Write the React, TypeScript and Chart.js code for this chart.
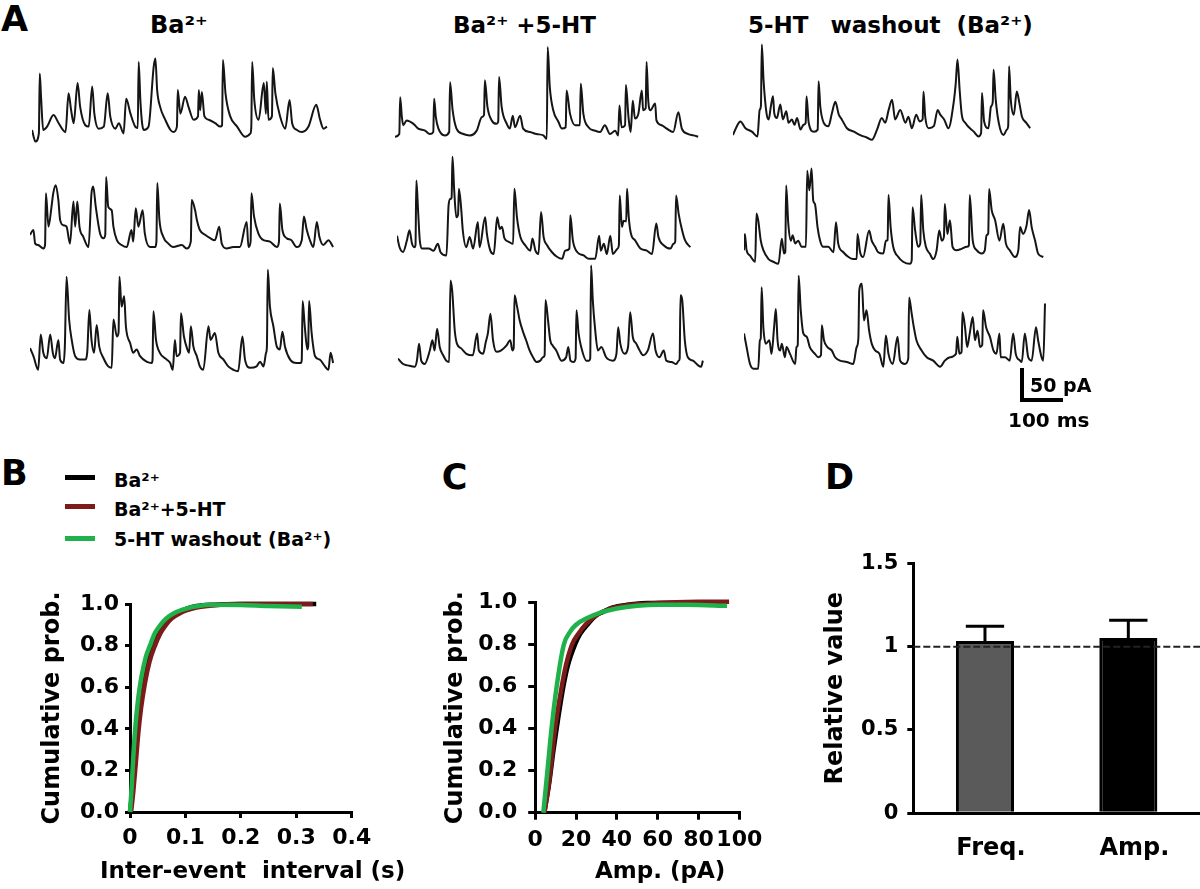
import React, { useEffect, useRef } from 'react';
import { Chart, registerables } from 'chart.js';

Chart.register(...registerables);
Chart.defaults.font.family = 'DejaVu Sans';
Chart.defaults.color = '#000';

// ---------------- DATA ----------------
// Panel A: sample current traces, [time (ms), current (pA)]
const traceBa1: number[][] = [[0,5],[8,-12],[16,0],[18,88],[21,54],[26,5],[35,10],[50,27],[62,15],[78,2],[85,59],[91,34],[97,15],[106,74],[112,39],[124,12],[132,10],[140,69],[145,29],[155,7],[167,10],[176,59],[182,25],[194,7],[202,15],[213,0],[219,51],[229,29],[240,10],[246,8],[248,105],[252,49],[256,15],[260,5],[271,10],[283,98],[287,110],[291,64],[298,39],[310,20],[322,5],[329,2],[337,10],[339,64],[345,29],[356,54],[364,39],[376,20],[386,25],[388,64],[391,34],[395,61],[401,25],[411,20],[426,15],[438,10],[442,12],[444,108],[450,59],[461,25],[477,10],[496,-5],[508,0],[510,10],[512,105],[517,49],[527,20],[539,74],[544,29],[546,76],[550,20],[558,25],[560,96],[566,59],[577,25],[589,7],[599,49],[605,15],[616,5],[628,2],[643,10],[661,42],[670,20],[678,7],[686,10]];
const traceBa2: number[][] = [[0,20],[8,27],[12,7],[19,5],[31,0],[35,5],[37,81],[43,32],[50,61],[54,81],[60,93],[66,71],[70,42],[78,34],[85,32],[93,7],[101,69],[105,32],[110,69],[115,32],[124,17],[136,2],[143,81],[147,91],[153,61],[163,22],[171,15],[175,20],[177,105],[182,61],[190,56],[194,32],[202,12],[213,5],[225,2],[236,27],[240,10],[246,59],[252,32],[262,56],[267,22],[279,2],[291,2],[294,10],[296,96],[301,42],[310,17],[322,7],[333,2],[353,5],[364,0],[374,10],[376,71],[384,56],[388,42],[395,27],[407,20],[419,15],[430,12],[440,32],[446,7],[457,0],[473,2],[488,2],[504,39],[508,2],[513,10],[515,81],[521,47],[531,22],[543,12],[558,10],[574,2],[579,10],[581,66],[587,27],[597,15],[608,12],[620,2],[632,12],[637,47],[643,29],[651,12],[659,2],[667,39],[673,17],[682,5],[694,12],[705,2]];
const traceBa3: number[][] = [[0,27],[8,15],[19,-5],[25,47],[31,20],[39,12],[47,47],[53,20],[58,12],[66,39],[70,10],[78,5],[81,29],[85,132],[91,69],[97,39],[105,15],[116,10],[128,10],[133,20],[138,83],[143,39],[149,20],[155,61],[161,29],[171,12],[182,0],[190,-2],[194,69],[202,44],[206,50],[208,132],[213,88],[219,103],[223,59],[233,34],[240,20],[248,25],[256,15],[271,7],[283,5],[285,10],[287,81],[293,39],[302,20],[318,10],[326,5],[332,-5],[337,39],[341,15],[349,20],[351,78],[358,44],[366,25],[370,20],[374,59],[380,29],[388,15],[395,0],[403,-5],[415,59],[420,39],[430,49],[438,20],[450,10],[461,0],[473,-5],[484,-7],[494,44],[500,10],[512,-2],[527,0],[535,7],[543,0],[549,20],[551,30],[553,142],[558,88],[566,59],[574,29],[581,25],[587,51],[593,29],[605,10],[620,5],[630,5],[632,10],[634,96],[639,59],[645,25],[647,30],[649,96],[655,49],[663,15],[674,10],[686,0],[694,-5],[699,20],[705,5]];

const traceHT1: number[][] = [[0,-2],[10,2],[12,56],[16,27],[19,15],[27,22],[43,17],[54,10],[70,7],[81,2],[89,5],[91,54],[95,27],[101,10],[116,0],[126,5],[128,78],[134,37],[143,10],[159,2],[174,0],[190,7],[202,27],[207,30],[209,81],[215,42],[225,22],[236,17],[240,20],[242,86],[248,42],[260,17],[267,10],[274,29],[279,12],[291,29],[298,10],[314,5],[329,2],[345,0],[353,-5],[355,130],[360,71],[368,37],[380,20],[388,10],[397,12],[399,66],[407,32],[419,15],[430,15],[432,76],[438,32],[450,12],[465,7],[477,5],[488,15],[500,2],[512,7],[519,0],[522,44],[527,12],[535,15],[537,74],[543,27],[548,5],[553,51],[558,25],[566,32],[574,66],[577,37],[583,40],[585,108],[589,51],[594,37],[605,47],[608,22],[620,15],[632,10],[647,5],[659,34],[667,10],[682,2],[694,0],[705,-2]];
const traceHT2: number[][] = [[0,29],[6,12],[14,5],[23,22],[29,37],[35,17],[40,12],[43,15],[45,110],[49,66],[53,22],[58,10],[74,10],[85,7],[95,17],[101,5],[115,0],[120,74],[124,83],[127,85],[129,145],[133,96],[138,56],[142,60],[144,98],[149,71],[153,37],[161,12],[169,27],[177,10],[188,49],[192,12],[205,56],[209,32],[217,7],[225,2],[233,56],[239,39],[244,42],[250,25],[260,20],[270,17],[273,98],[279,56],[287,27],[298,15],[310,7],[315,25],[322,7],[329,2],[335,64],[341,27],[349,15],[360,5],[372,-2],[384,-5],[391,7],[401,10],[403,59],[409,22],[419,5],[434,0],[446,-5],[461,-5],[470,29],[474,7],[481,17],[488,2],[496,29],[502,2],[513,10],[516,15],[518,88],[523,42],[527,51],[533,50],[535,98],[539,56],[544,32],[554,22],[566,10],[581,7],[593,2],[603,47],[608,27],[620,15],[636,10],[643,17],[647,20],[649,88],[655,61],[663,37],[670,22],[682,12]];
const traceHT3: number[][] = [[0,10],[12,2],[23,0],[39,-2],[44,7],[49,32],[54,7],[62,2],[74,22],[80,37],[85,22],[91,54],[97,27],[105,15],[112,7],[119,5],[122,125],[126,110],[132,51],[137,32],[147,25],[159,17],[174,15],[184,47],[188,22],[198,17],[204,34],[209,47],[215,76],[221,37],[229,20],[240,22],[252,29],[261,37],[266,22],[269,25],[271,103],[277,86],[283,66],[291,49],[298,37],[306,22],[314,12],[322,5],[331,7],[337,12],[341,15],[343,96],[349,66],[354,37],[360,29],[368,22],[380,7],[391,12],[396,27],[401,7],[408,5],[413,10],[415,81],[420,47],[426,27],[438,7],[444,7],[447,10],[449,147],[453,96],[458,56],[465,22],[473,27],[484,12],[500,7],[508,17],[512,56],[517,32],[527,17],[535,27],[540,78],[546,42],[554,32],[562,22],[570,15],[581,22],[593,47],[599,22],[608,12],[618,22],[624,7],[636,5],[647,2],[653,7],[655,10],[657,103],[661,96],[667,37],[674,12],[686,7],[698,0],[705,-2],[709,7]];

const traceWash1: number[][] = [[0,2],[9,15],[17,22],[29,12],[44,7],[57,0],[62,39],[65,45],[67,135],[71,83],[78,34],[83,25],[88,44],[93,59],[96,34],[102,27],[110,47],[116,25],[124,37],[129,20],[137,25],[143,17],[149,27],[157,10],[164,17],[169,20],[171,59],[176,20],[188,7],[197,10],[199,81],[203,44],[211,20],[222,15],[230,34],[238,51],[246,32],[253,25],[265,12],[281,7],[296,2],[312,-2],[323,-5],[335,10],[346,27],[354,20],[362,39],[370,54],[377,25],[389,39],[401,20],[408,29],[416,12],[426,32],[434,22],[441,25],[443,66],[447,29],[455,12],[467,15],[476,39],[482,32],[491,25],[501,12],[513,49],[518,78],[522,113],[527,69],[532,32],[540,20],[560,7],[571,0],[577,5],[579,64],[584,22],[594,12],[600,44],[604,50],[606,98],[611,54],[618,20],[629,2],[637,10],[640,15],[642,103],[646,54],[653,32],[660,66],[666,49],[672,29],[682,20],[691,12]];
const traceWash2: number[][] = [[0,15],[2,39],[6,15],[14,7],[26,-2],[29,69],[33,59],[39,29],[45,15],[57,2],[68,-2],[80,-5],[88,32],[93,10],[96,12],[98,110],[103,54],[109,29],[113,37],[119,25],[126,29],[134,20],[144,20],[147,132],[152,103],[157,135],[161,88],[165,83],[171,49],[177,29],[184,20],[196,20],[208,12],[214,56],[219,25],[231,12],[243,5],[254,2],[262,2],[264,39],[270,12],[277,5],[291,44],[297,29],[305,20],[312,12],[324,10],[330,29],[334,30],[336,96],[341,49],[347,20],[359,5],[370,-2],[386,-5],[390,0],[392,78],[398,44],[405,20],[410,25],[412,96],[417,44],[423,20],[432,10],[440,2],[448,15],[454,44],[460,29],[465,35],[467,83],[473,39],[479,59],[485,20],[494,15],[506,17],[518,20],[523,22],[525,96],[532,29],[541,15],[553,10],[560,15],[564,37],[568,40],[570,105],[576,74],[584,59],[594,29],[603,54],[609,25],[618,15],[630,5],[638,15],[642,49],[649,39],[657,51],[663,74],[669,49],[677,29],[684,10],[696,5]];
const traceWash3: number[][] = [[0,47],[6,27],[14,2],[22,-5],[33,-5],[37,37],[39,40],[41,115],[45,56],[51,32],[59,37],[64,17],[70,56],[74,83],[78,37],[84,22],[88,32],[95,12],[99,27],[107,17],[119,2],[122,27],[125,30],[127,132],[132,81],[138,47],[146,42],[153,27],[165,17],[173,12],[179,15],[181,59],[186,37],[194,27],[204,22],[212,12],[223,7],[239,5],[254,2],[262,27],[266,40],[268,110],[274,120],[279,66],[285,81],[291,51],[297,32],[305,22],[315,17],[324,-2],[330,44],[336,17],[346,2],[357,42],[363,7],[374,2],[382,10],[384,100],[390,76],[395,56],[401,37],[413,22],[425,12],[440,7],[456,-2],[467,7],[479,12],[493,17],[496,42],[501,17],[506,20],[508,78],[514,56],[519,27],[525,47],[532,71],[537,37],[543,51],[549,27],[554,30],[556,81],[563,56],[572,42],[580,22],[587,17],[594,47],[597,12],[607,12],[618,7],[626,47],[632,17],[642,7],[646,5],[653,47],[661,12],[669,7],[679,56],[684,37],[692,12],[696,7],[700,91]];

// Scale bar values
const scaleBarMs = 100;
const scaleBarPa = 50;

// Legend / series
const seriesNames = ['Ba²⁺', 'Ba²⁺+5-HT', '5-HT washout (Ba²⁺)'];
const seriesColors = ['#000000', '#7d1b1b', '#1fb24a'];

// Panel B: cumulative probability vs inter-event interval (s)
const ieiBa: number[][] = [[0,0],[0.004,0.1],[0.008,0.25],[0.012,0.4],[0.018,0.55],[0.025,0.66],[0.032,0.74],[0.04,0.8],[0.05,0.86],[0.06,0.9],[0.07,0.93],[0.08,0.95],[0.1,0.975],[0.12,0.99],[0.15,0.997],[0.2,1.0],[0.336,1.0]];
const ieiBaHT: number[][] = [[0.002,0],[0.006,0.1],[0.01,0.22],[0.015,0.38],[0.02,0.5],[0.027,0.62],[0.035,0.72],[0.045,0.8],[0.055,0.86],[0.065,0.9],[0.075,0.93],[0.09,0.955],[0.1,0.968],[0.12,0.983],[0.15,0.993],[0.2,1.0],[0.33,1.0]];
const ieiWash: number[][] = [[0,0],[0.003,0.12],[0.006,0.27],[0.01,0.42],[0.015,0.55],[0.02,0.64],[0.028,0.74],[0.036,0.8],[0.045,0.86],[0.055,0.9],[0.065,0.93],[0.08,0.957],[0.1,0.977],[0.12,0.989],[0.15,0.996],[0.2,0.995],[0.25,0.99],[0.31,0.987]];
const ieiTicksX = { min: 0, max: 0.4, step: 0.1 };

// Panel C: cumulative probability vs amplitude (pA)
const ampBa: number[][] = [[4.5,0],[7,0.15],[9,0.3],[10.5,0.4],[13.8,0.6],[16,0.7],[19.5,0.8],[22,0.85],[26,0.9],[30,0.94],[33,0.955],[38,0.978],[45,0.99],[55,0.998],[65,1.0],[94,1.0]];
const ampBaHT: number[][] = [[4.5,0],[7,0.16],[9.7,0.4],[13,0.6],[15,0.7],[18,0.8],[21,0.85],[25,0.9],[30,0.94],[36,0.97],[45,0.988],[60,0.998],[80,1.004],[95,1.005]];
const ampWash: number[][] = [[4,0],[6,0.2],[8,0.4],[10.5,0.6],[14,0.8],[17,0.86],[20,0.895],[25,0.925],[32,0.953],[40,0.972],[50,0.985],[60,0.99],[75,0.99],[94,0.985]];
const ampTicksX = { min: 0, max: 100, step: 20 };

// Panel D: relative values
const relCategories = ['Freq.', 'Amp.'];
const relMeans = [1.034, 1.052];
const relSem = [0.088, 0.106];
const relBaseline = 1;
const relBarColors = ['#5a5a5a', '#000000'];

// ---------------- LAYOUT ----------------
const FONT = 'DejaVu Sans';
const PX_PER_MS = 0.43;
const PX_PER_PA = 0.68;
const TRACE_W = 310;
const TRACE_H = 130;
const T_MAX = TRACE_W / PX_PER_MS;
const V_MIN = -20;
const V_MAX = V_MIN + TRACE_H / PX_PER_PA;
const ZERO_OFFSET = V_MAX * PX_PER_PA;

const traces = [
  { data: traceBa1, left: 31.7, zeroY: 133.3 },
  { data: traceBa2, left: 30, zeroY: 248.3 },
  { data: traceBa3, left: 30, zeroY: 366.7 },
  { data: traceHT1, left: 395, zeroY: 135 },
  { data: traceHT2, left: 396.7, zeroY: 255 },
  { data: traceHT3, left: 398.3, zeroY: 365 },
  { data: traceWash1, left: 732.7, zeroY: 136.7 },
  { data: traceWash2, left: 744, zeroY: 260 },
  { data: traceWash3, left: 744, zeroY: 365 },
];

function Txt(props: { x: number; base: number; size: number; children: any; center?: boolean }) {
  const { x, base, size, children, center } = props;
  return (
    <div
      style={{
        position: 'absolute',
        left: x,
        top: base - 0.846 * size,
        fontSize: size,
        lineHeight: `${size}px`,
        whiteSpace: 'pre',
        transform: center ? 'translateX(-50%)' : undefined,
      }}
    >
      {children}
    </div>
  );
}

function TraceChart(props: { data: number[][]; left: number; zeroY: number }) {
  const ref = useRef<HTMLCanvasElement>(null);
  useEffect(() => {
    const chart = new Chart(ref.current!, {
      type: 'line',
      data: {
        datasets: [
          {
            data: props.data.map(([x, y]) => ({ x, y })),
            borderColor: '#151515',
            borderWidth: 2,
            pointRadius: 0,
            cubicInterpolationMode: 'monotone' as const,
            clip: false as any,
          },
        ],
      },
      options: {
        animation: false,
        responsive: false,
        events: [],
        layout: { padding: 0 },
        plugins: { legend: { display: false }, tooltip: { enabled: false } },
        scales: {
          x: { type: 'linear', display: false, min: 0, max: T_MAX },
          y: { type: 'linear', display: false, min: V_MIN, max: V_MAX },
        },
      },
    });
    return () => chart.destroy();
  }, []);
  return (
    <canvas
      ref={ref}
      width={TRACE_W}
      height={TRACE_H}
      style={{ position: 'absolute', left: props.left, top: props.zeroY - ZERO_OFFSET, width: TRACE_W, height: TRACE_H }}
    />
  );
}

type CdfProps = {
  series: number[][][];
  xTicks: { min: number; max: number; step: number };
  xFmt: (v: number) => string;
  left: number;
  top: number;
  width: number;
  height: number;
  padTop: number;
  padRight: number;
  yWidth: number;
  xHeight: number;
  titlePad: number;
  yTickLen: number;
  yTickPad: number;
  xTickLen: number;
  xTickPad: number;
};

function CdfChart(p: CdfProps) {
  const ref = useRef<HTMLCanvasElement>(null);
  useEffect(() => {
    const order = [2, 1, 0];
    const chart = new Chart(ref.current!, {
      type: 'line',
      data: {
        datasets: p.series.map((s, i) => ({
          label: seriesNames[i],
          data: s.map(([x, y]) => ({ x, y })),
          borderColor: seriesColors[i],
          backgroundColor: seriesColors[i],
          borderWidth: 4.5,
          pointRadius: 0,
          cubicInterpolationMode: 'monotone' as const,
          order: order[i],
          clip: false as any,
        })),
      },
      options: {
        animation: false,
        responsive: false,
        events: [],
        layout: { padding: { top: p.padTop, right: p.padRight, left: 0, bottom: 0 } },
        plugins: { legend: { display: false }, tooltip: { enabled: false } },
        scales: {
          x: {
            type: 'linear',
            min: p.xTicks.min,
            max: p.xTicks.max,
            afterFit: (s: any) => { s.height = p.xHeight; },
            border: { display: true, color: '#000', width: 3 },
            grid: { drawOnChartArea: false, drawTicks: true, tickLength: p.xTickLen, color: '#000', lineWidth: 3 },
            ticks: {
              stepSize: p.xTicks.step,
              autoSkip: false,
              maxRotation: 0,
              minRotation: 0,
              padding: p.xTickPad,
              color: '#000',
              font: { family: FONT, size: 22, weight: 'bold' },
              callback: (v: any) => p.xFmt(Number(v)),
            },
          },
          y: {
            type: 'linear',
            min: 0,
            max: 1,
            afterFit: (s: any) => { s.width = p.yWidth; },
            border: { display: true, color: '#000', width: 3 },
            grid: { drawOnChartArea: false, drawTicks: true, tickLength: p.yTickLen, color: '#000', lineWidth: 3 },
            ticks: {
              stepSize: 0.2,
              padding: p.yTickPad,
              color: '#000',
              font: { family: FONT, size: 22, weight: 'bold' },
              callback: (v: any) => Number(v).toFixed(1),
            },
            title: {
              display: true,
              text: 'Cumulative prob.',
              color: '#000',
              font: { family: FONT, size: 24, weight: 'bold' },
              padding: { top: p.titlePad, bottom: 0 },
            },
          },
        },
      },
    });
    return () => chart.destroy();
  }, []);
  return (
    <canvas
      ref={ref}
      width={p.width}
      height={p.height}
      style={{ position: 'absolute', left: p.left, top: p.top, width: p.width, height: p.height }}
    />
  );
}

const errorBarPlugin = {
  id: 'errorBars',
  afterDatasetsDraw(chart: any) {
    const { ctx, scales } = chart;
    const y = scales.y;
    const meta = chart.getDatasetMeta(0);
    ctx.save();
    ctx.strokeStyle = '#000';
    ctx.lineWidth = 3;
    meta.data.forEach((bar: any, i: number) => {
      const yv = y.getPixelForValue(relMeans[i]);
      const yt = y.getPixelForValue(relMeans[i] + relSem[i]);
      const half = bar.width * 0.33;
      ctx.beginPath();
      ctx.moveTo(bar.x, yv);
      ctx.lineTo(bar.x, yt);
      ctx.moveTo(bar.x - half, yt);
      ctx.lineTo(bar.x + half, yt);
      ctx.stroke();
    });
    ctx.restore();
  },
};

const refLinePlugin = {
  id: 'refLine',
  afterDatasetsDraw(chart: any) {
    const { ctx, chartArea, scales } = chart;
    const py = scales.y.getPixelForValue(relBaseline);
    ctx.save();
    ctx.setLineDash([7, 3]);
    ctx.lineWidth = 2;
    ctx.strokeStyle = '#222';
    ctx.beginPath();
    ctx.moveTo(chartArea.left, py);
    ctx.lineTo(chartArea.right, py);
    ctx.stroke();
    ctx.restore();
  },
};

function BarPanel() {
  const ref = useRef<HTMLCanvasElement>(null);
  useEffect(() => {
    const chart = new Chart(ref.current!, {
      type: 'bar',
      data: {
        labels: relCategories,
        datasets: [
          {
            data: relMeans,
            backgroundColor: relBarColors,
            borderColor: '#000',
            borderWidth: 3,
            barPercentage: 0.405,
            categoryPercentage: 1,
          },
        ],
      },
      options: {
        animation: false,
        responsive: false,
        events: [],
        layout: { padding: { top: 33.3, right: 0, left: 0, bottom: 0 } },
        plugins: { legend: { display: false }, tooltip: { enabled: false } },
        scales: {
          x: {
            type: 'category',
            afterFit: (s: any) => { s.height = 60.7; },
            border: { display: true, color: '#000', width: 3 },
            grid: { display: false },
            ticks: {
              padding: 13,
              labelOffset: 6,
              color: '#000',
              font: { family: FONT, size: 24, weight: 'bold' },
            },
          },
          y: {
            type: 'linear',
            min: 0,
            max: 1.5,
            afterFit: (s: any) => { s.width = 133.3; },
            border: { display: true, color: '#000', width: 3 },
            grid: { drawOnChartArea: false, drawTicks: true, tickLength: 6, color: '#000', lineWidth: 3 },
            ticks: {
              stepSize: 0.5,
              padding: 9,
              color: '#000',
              font: { family: FONT, size: 21, weight: 'bold' },
              callback: (v: any) => String(Number(v)),
            },
            title: {
              display: true,
              text: 'Relative value',
              color: '#000',
              font: { family: FONT, size: 24, weight: 'bold' },
              padding: { top: 41.6, bottom: 0 },
            },
          },
        },
      },
      plugins: [errorBarPlugin, refLinePlugin],
    });
    return () => chart.destroy();
  }, []);
  return (
    <canvas
      ref={ref}
      width={420}
      height={344}
      style={{ position: 'absolute', left: 780, top: 530, width: 420, height: 344 }}
    />
  );
}

export default function App() {
  const barLen = scaleBarMs * PX_PER_MS;
  const barHt = scaleBarPa * PX_PER_PA;
  return (
    <div
      style={{
        position: 'fixed',
        left: 0,
        top: 0,
        width: 1200,
        height: 889,
        overflow: 'hidden',
        background: '#fff',
        fontFamily: FONT,
        fontWeight: 'bold',
        color: '#000',
      }}
    >
      {/* Panel A */}
      <Txt x={1} base={32} size={35}>A</Txt>
      <Txt x={150} base={33} size={24}>Ba²⁺</Txt>
      <Txt x={453} base={33} size={23}>Ba²⁺ +5-HT</Txt>
      <Txt x={748} base={33} size={23}>
        5-HT<span style={{ marginLeft: 22 }}>washout</span>
        <span style={{ marginLeft: 16 }}>(Ba²⁺)</span>
      </Txt>
      {traces.map((t, i) => (
        <TraceChart key={i} data={t.data} left={t.left} zeroY={t.zeroY} />
      ))}
      <div style={{ position: 'absolute', left: 1019.5, top: 402 - barHt, width: 4, height: barHt, background: '#000' }} />
      <div style={{ position: 'absolute', left: 1019.5, top: 398, width: barLen, height: 4, background: '#000' }} />
      <Txt x={1030} base={392} size={19}>50 pA</Txt>
      <Txt x={1008} base={427} size={20}>100 ms</Txt>

      {/* Panel B */}
      <Txt x={1} base={486} size={35}>B</Txt>
      {seriesNames.map((n, i) => (
        <React.Fragment key={n}>
          <div
            style={{
              position: 'absolute',
              left: 65,
              top: [475, 504, 536][i],
              width: 30,
              height: 5,
              background: seriesColors[i],
            }}
          />
          <Txt x={114} base={[487, 516.5, 546.5][i]} size={19}>{n}</Txt>
        </React.Fragment>
      ))}
      <CdfChart
        series={[ieiBa, ieiBaHT, ieiWash]}
        xTicks={ieiTicksX}
        xFmt={(v) => (v === 0 ? '0' : v.toFixed(1))}
        left={20}
        top={570}
        width={367}
        height={312}
        padTop={34}
        padRight={35.3}
        yWidth={110}
        xHeight={70}
        titlePad={18.1}
        yTickLen={5}
        yTickPad={6}
        xTickLen={6}
        xTickPad={7}
      />
      <Txt x={100} base={878} size={23}>
        Inter-event<span style={{ marginLeft: 16 }}>interval (s)</span>
      </Txt>

      {/* Panel C */}
      <Txt x={441.7} base={490} size={35}>C</Txt>
      <CdfChart
        series={[ampBa, ampBaHT, ampWash]}
        xTicks={ampTicksX}
        xFmt={(v) => String(Math.round(v))}
        left={425}
        top={570}
        width={350}
        height={313}
        padTop={32.7}
        padRight={35.7}
        yWidth={110.2}
        xHeight={70.3}
        titlePad={16.4}
        yTickLen={7}
        yTickPad={11}
        xTickLen={7}
        xTickPad={7}
      />
      <Txt x={595} base={878} size={23}>Amp. (pA)</Txt>

      {/* Panel D */}
      <Txt x={825} base={490} size={35}>D</Txt>
      <BarPanel />
    </div>
  );
}
